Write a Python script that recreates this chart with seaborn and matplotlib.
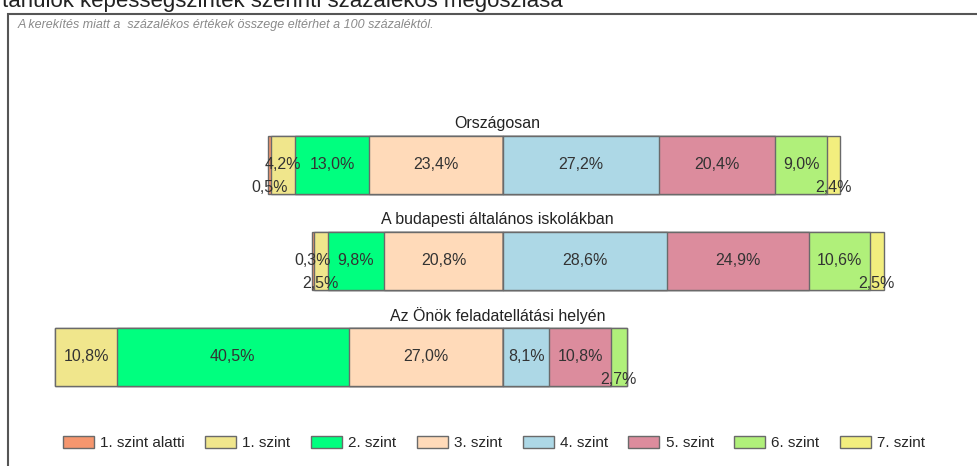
import matplotlib
matplotlib.use('Agg')
import matplotlib.pyplot as plt
import seaborn as sns
import pandas as pd
import numpy as np
from matplotlib.patches import Patch, Rectangle

groups = ["Országosan", "A budapesti általános iskolákban", "Az Önök feladatellátási helyén"]
levels = ["1. szint alatti", "1. szint", "2. szint", "3. szint",
          "4. szint", "5. szint", "6. szint", "7. szint"]
orszagos = [0.5, 4.2, 13.0, 23.4, 27.2, 20.4, 9.0, 2.4]
budapest = [0.3, 2.5, 9.8, 20.8, 28.6, 24.9, 10.6, 2.5]
onok = [0.0, 10.8, 40.5, 27.0, 8.1, 10.8, 2.7, 0.0]
colors = ["#F5966E", "#F0E68C", "#00FF7F", "#FFDAB9",
          "#ADD8E6", "#DC8C9D", "#B0F07A", "#F2EE7E"]
title = "tanulók képességszintek szerinti százalékos megoszlása"
note = "A kerekítés miatt a  százalékos értékek összege eltérhet a 100 százaléktól."

sns.set_theme(style="white")
plt.rcParams['font.family'] = ['Liberation Sans', 'DejaVu Sans']

W, H = 977, 466
values = np.array([orszagos, budapest, onok])
n_left = 4

fig = plt.figure(figsize=(W / 100, H / 100), dpi=100)
fig.patch.set_facecolor('white')
ax = fig.add_axes([0, 0, 1, 1])

edge = "#6a6a6a"
bar_w = 0.594

left_vals = values[:, :n_left]
right_vals = values[:, n_left:]
left_cum = np.cumsum(left_vals[:, ::-1], axis=1)[:, ::-1]
right_cum = np.cumsum(right_vals, axis=1)

# left side: outermost first
for j in range(n_left):
    df = pd.DataFrame({"group": groups, "x": -left_cum[:, j]})
    sns.barplot(data=df, x="x", y="group", order=groups, orient="h", color=colors[j],
                saturation=1, edgecolor=edge, linewidth=1, width=bar_w,
                errorbar=None, ax=ax)
# right side: outermost first
for j in range(right_vals.shape[1] - 1, -1, -1):
    df = pd.DataFrame({"group": groups, "x": right_cum[:, j]})
    sns.barplot(data=df, x="x", y="group", order=groups, orient="h", color=colors[n_left + j],
                saturation=1, edgecolor=edge, linewidth=1, width=bar_w,
                errorbar=None, ax=ax)

center_px = 503
px_per = 5.72
ax.set_xlim(-center_px / px_per, (W - center_px) / px_per)
ax.set_ylim(2 + (H - 357) / 96, -165 / 96)
ax.axis('off')


def fmt(v):
    return f"{v:.1f}".replace('.', ',') + '%'


for i, g in enumerate(groups):
    row = values[i]
    start = -row[:n_left].sum()
    for j, v in enumerate(row):
        if v > 0:
            c = start + v / 2
            small = v < 3
            nxt_small = j + 1 < len(row) and 0 < row[j + 1] < 3
            dy = 0.23 if (small and not nxt_small) else 0.0
            ax.text(c, i + dy, fmt(v), ha='center', va='center', fontsize=11.5, color='#333333')
        start += v
    ax.text(-1, i - 0.43, g, ha='center', va='center', fontsize=11.5, color='#222222')

handles = [Patch(facecolor=c, edgecolor=edge, linewidth=1) for c in colors]
fig.legend(handles, levels, loc='center', bbox_to_anchor=(0.5056, 1 - 443 / H), ncol=8,
           frameon=False, fontsize=11, handlelength=2.03, handleheight=0.85,
           handletextpad=0.4, columnspacing=1.35, borderpad=0, borderaxespad=0)

fig.add_artist(Rectangle((8 / W, -0.1), 1.2, 1 - 14 / H + 0.1, transform=fig.transFigure,
                         fill=False, edgecolor='#555555', linewidth=1.5))
fig.text(2 / W, 1 - 7 / H, title, ha='left', va='baseline', fontsize=16, color='#222222')
fig.text(18 / W, 1 - 25 / H, note, ha='left', va='center', fontsize=9, style='italic',
         color='#8a8a8a')

fig.savefig('out.png', dpi=100, facecolor='white')
